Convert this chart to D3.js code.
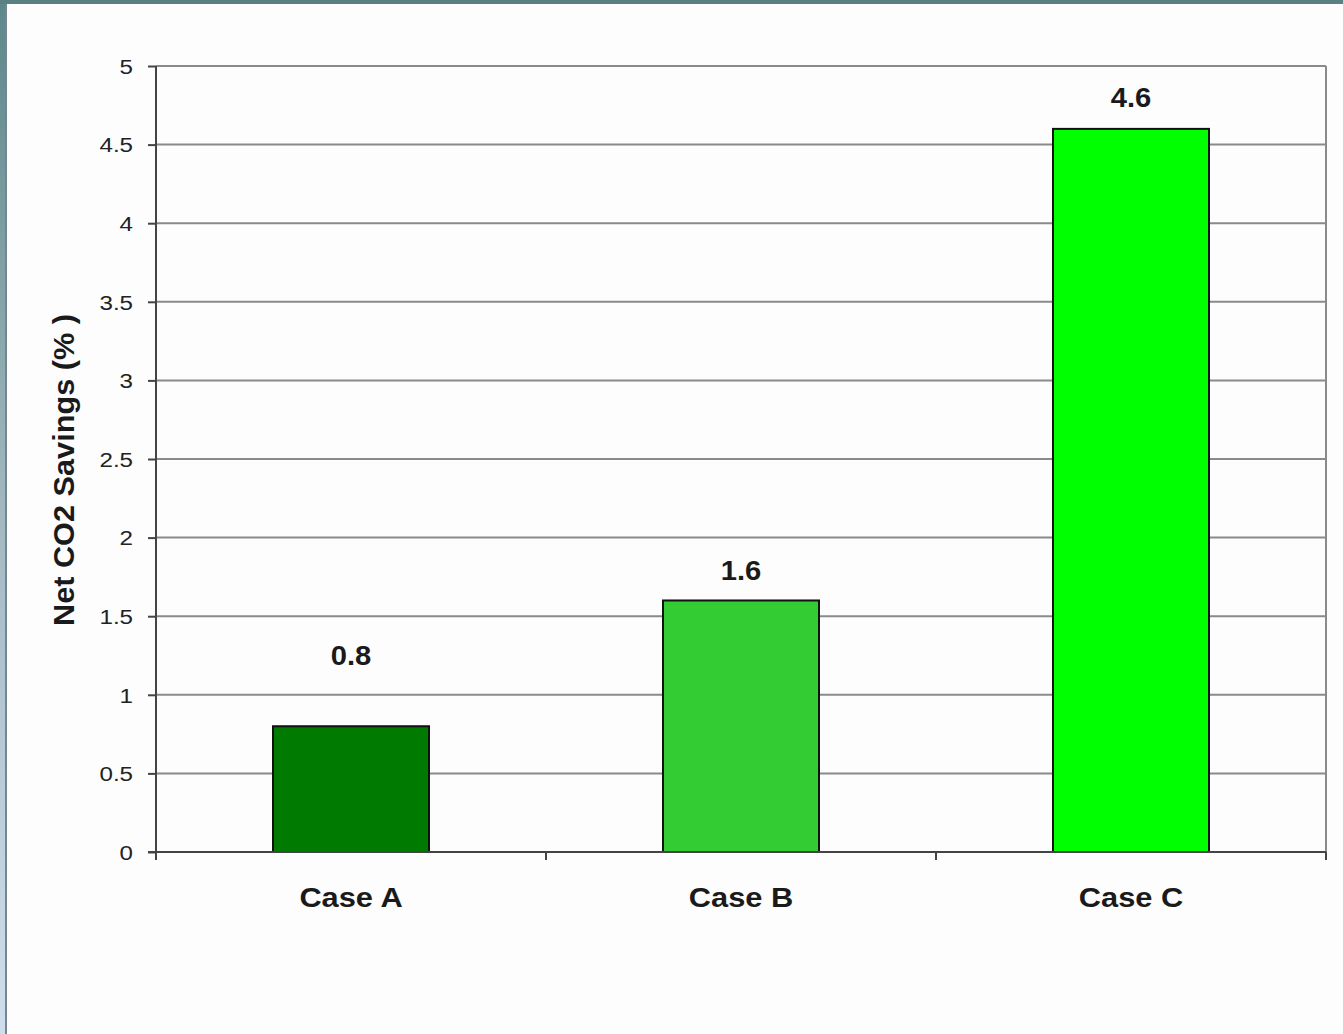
<!DOCTYPE html>
<html><head><meta charset="utf-8">
<script src="https://cdn.jsdelivr.net/npm/d3@7"></script>
<style>html,body{margin:0;padding:0;background:#fff;overflow:hidden}</style>
</head><body>
<script>
const categories = ["Case A", "Case B", "Case C"];
const values = [0.8, 1.6, 4.6];
const valueLabels = ["0.8", "1.6", "4.6"];
const barColors = ["#007a00", "#33cc33", "#00ff00"];
const yTicks = [0, 0.5, 1, 1.5, 2, 2.5, 3, 3.5, 4, 4.5, 5];
const yTitle = "Net CO2 Savings (% )";

const W = 1343, H = 1034;
const svg = d3.select("body").append("svg").attr("width", W).attr("height", H);
const defs = svg.append("defs");
const g1 = defs.append("linearGradient").attr("id","lg").attr("x1",0).attr("y1",0).attr("x2",0).attr("y2",1);
g1.append("stop").attr("offset","0").attr("stop-color","#5c878a");
g1.append("stop").attr("offset","0.5").attr("stop-color","#a3b9c2");
g1.append("stop").attr("offset","1").attr("stop-color","#cfdeee");

svg.append("rect").attr("width",W).attr("height",H).attr("fill","#fdfdfd");
svg.append("rect").attr("x",0).attr("y",0).attr("width",5).attr("height",H).attr("fill","url(#lg)");
svg.append("rect").attr("x",5).attr("y",0).attr("width",2).attr("height",H).attr("fill","#76868f");
svg.append("rect").attr("x",0).attr("y",0).attr("width",W).attr("height",4).attr("fill","#5a8083");

const L = 156, R = 1326, T = 66, B = 852;
const x = d3.scaleBand().domain(categories).range([L, R]).paddingInner(0).paddingOuter(0);
const y = d3.scaleLinear().domain([0, 5]).range([B, T]);
const barW = x.bandwidth() * 0.4;

// gridlines
svg.append("g").selectAll("line").data(yTicks.filter(d => d > 0)).join("line")
  .attr("x1", L).attr("x2", R).attr("y1", d => y(d)).attr("y2", d => y(d))
  .attr("stroke", "#8a8a8a").attr("stroke-width", 2);
// right border
svg.append("line").attr("x1", R).attr("x2", R).attr("y1", T).attr("y2", B + 7)
  .attr("stroke", "#8a8a8a").attr("stroke-width", 2);

// bars
svg.append("g").selectAll("rect").data(values).join("rect")
  .attr("x", (d, i) => x(categories[i]) + (x.bandwidth() - barW) / 2)
  .attr("y", d => y(d))
  .attr("width", barW)
  .attr("height", d => B - y(d))
  .attr("fill", (d, i) => barColors[i])
  .attr("stroke", "#111").attr("stroke-width", 2);

// y axis
const yAxis = d3.axisLeft(y).tickValues(yTicks).tickSize(8).tickFormat(d3.format("~g"));
const ya = svg.append("g").attr("transform", `translate(${L},0)`).call(yAxis);
ya.select(".domain").remove();
ya.selectAll(".tick line").attr("stroke", "#444").attr("stroke-width", 2);
ya.selectAll(".tick text").attr("x", -23).attr("dy", "0.35em")
  .style("font-family", "Liberation Sans, Arial, sans-serif").style("font-size", "21px")
  .attr("fill", "#222").attr("transform", "scale(1.15,1)")
  .attr("text-anchor", "end");
ya.selectAll(".tick text").attr("x", function(){ return -23/1.15; });
svg.append("line").attr("x1", L).attr("x2", L).attr("y1", T).attr("y2", B + 8)
  .attr("stroke", "#444").attr("stroke-width", 2);

// x axis
svg.append("line").attr("x1", L - 8).attr("x2", R).attr("y1", B).attr("y2", B)
  .attr("stroke", "#444").attr("stroke-width", 2);
const xEdges = categories.map(c => x(c)).concat([R]);
svg.append("g").selectAll("line").data(xEdges).join("line")
  .attr("x1", d => d).attr("x2", d => d).attr("y1", B).attr("y2", B + 8)
  .attr("stroke", "#444").attr("stroke-width", 2);

const font = "Liberation Sans, Arial, sans-serif";
// category labels
svg.append("g").selectAll("text").data(categories).join("text")
  .attr("transform", d => `translate(${x(d) + x.bandwidth() / 2},907) scale(1.1,1)`)
  .attr("text-anchor", "middle")
  .style("font-family", font).style("font-size", "28px").style("font-weight", "bold")
  .attr("fill", "#1a1a1a").text(d => d);

// value labels
const labelLift = [61, 20, 22];
svg.append("g").selectAll("text").data(values).join("text")
  .attr("transform", (d, i) => `translate(${x(categories[i]) + x.bandwidth() / 2},${y(d) - labelLift[i]}) scale(1.08,1)`)
  .attr("text-anchor", "middle")
  .style("font-family", font).style("font-size", "27px").style("font-weight", "bold")
  .attr("fill", "#1a1a1a").text((d, i) => valueLabels[i]);

// y title
svg.append("text")
  .attr("transform", "translate(74,470) rotate(-90)")
  .attr("text-anchor", "middle")
  .attr("textLength", 312).attr("lengthAdjust", "spacingAndGlyphs")
  .style("font-family", font).style("font-size", "29px").style("font-weight", "bold")
  .attr("fill", "#1a1a1a").text(yTitle);
</script>
</body></html>
